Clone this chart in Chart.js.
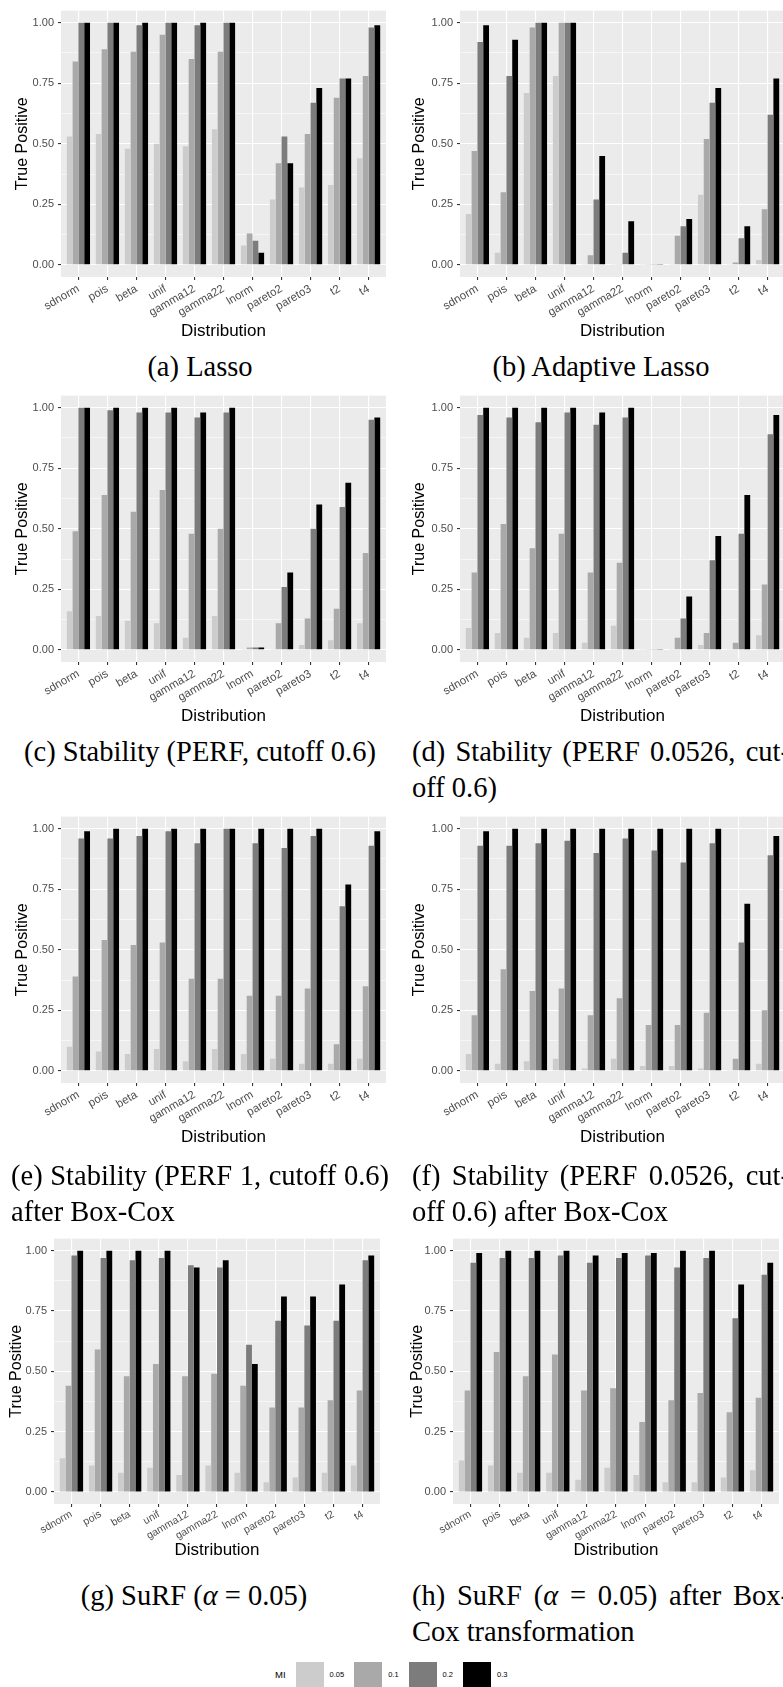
<!DOCTYPE html>
<html>
<head>
<meta charset="utf-8">
<script src="https://cdn.jsdelivr.net/npm/chart.js@4.4.1/dist/chart.umd.min.js"></script>
<style>
html, body { margin: 0; padding: 0; background: #fff; }
body { position: relative; width: 783px; height: 1687px; overflow: hidden; }
canvas { position: absolute; }
.cap { position: absolute; width: 378px; font-family: "Liberation Serif", "Times New Roman", serif; font-size: 28.5px; line-height: 36px; color: #000; white-space: nowrap; }
.cap.center { text-align: center; }
.cap .j { display: block; text-align: justify; text-align-last: justify; }
.cap .l { display: block; text-align: left; }
#legend { position: absolute; left: 275px; top: 1662px; height: 25px; display: flex; align-items: center; font-family: "Liberation Sans", Arial, sans-serif; color: #000; }
#legend .ttl { font-size: 9.5px; margin-right: 10px; }
#legend .box { width: 28px; height: 25px; }
#legend .lab { font-size: 7.5px; margin-left: 6px; margin-right: 10px; }
</style>
</head>
<body>
<script>
// categories and MI levels
const distributions = ['sdnorm', 'pois', 'beta', 'unif', 'gamma12', 'gamma22', 'lnorm', 'pareto2', 'pareto3', 't2', 't4'];
const miLevels = ['0.05', '0.1', '0.2', '0.3'];
const yTickLabels = ['0.00', '0.25', '0.50', '0.75', '1.00'];

// true positive rates, one row per MI level (0.05, 0.1, 0.2, 0.3)
const lasso = [
  [0.53, 0.54, 0.48, 0.50, 0.49, 0.56, 0.08, 0.27, 0.32, 0.33, 0.44],
  [0.84, 0.89, 0.88, 0.95, 0.85, 0.88, 0.13, 0.42, 0.54, 0.69, 0.78],
  [1.00, 1.00, 0.99, 1.00, 0.99, 1.00, 0.10, 0.53, 0.67, 0.77, 0.98],
  [1.00, 1.00, 1.00, 1.00, 1.00, 1.00, 0.05, 0.42, 0.73, 0.77, 0.99]
];
const adaLasso = [
  [0.21, 0.05, 0.71, 0.78, 0.004, 0.004, 0.004, 0.004, 0.29, 0.004, 0.02],
  [0.47, 0.30, 0.98, 1.00, 0.04, 0.004, 0.004, 0.12, 0.52, 0.01, 0.23],
  [0.92, 0.78, 1.00, 1.00, 0.27, 0.05, 0.004, 0.16, 0.67, 0.11, 0.62],
  [0.99, 0.93, 1.00, 1.00, 0.45, 0.18, 0.004, 0.19, 0.73, 0.16, 0.77]
];
const stabPerf = [
  [0.16, 0.14, 0.12, 0.11, 0.05, 0.14, 0.004, 0.004, 0.02, 0.04, 0.11],
  [0.49, 0.64, 0.57, 0.66, 0.48, 0.50, 0.01, 0.11, 0.13, 0.17, 0.40],
  [1.00, 0.99, 0.98, 0.98, 0.96, 0.98, 0.01, 0.26, 0.50, 0.59, 0.95],
  [1.00, 1.00, 1.00, 1.00, 0.98, 1.00, 0.01, 0.32, 0.60, 0.69, 0.96]
];
const stabPerf0526 = [
  [0.09, 0.07, 0.05, 0.07, 0.03, 0.10, 0.004, 0.004, 0.02, 0.004, 0.06],
  [0.32, 0.52, 0.42, 0.48, 0.32, 0.36, 0.004, 0.05, 0.07, 0.03, 0.27],
  [0.97, 0.96, 0.94, 0.98, 0.93, 0.96, 0.004, 0.13, 0.37, 0.48, 0.89],
  [1.00, 1.00, 1.00, 1.00, 0.98, 1.00, 0.004, 0.22, 0.47, 0.64, 0.97]
];
const stabPerf1BoxCox = [
  [0.10, 0.08, 0.07, 0.09, 0.04, 0.09, 0.07, 0.05, 0.03, 0.03, 0.05],
  [0.39, 0.54, 0.52, 0.53, 0.38, 0.38, 0.31, 0.31, 0.34, 0.11, 0.35],
  [0.96, 0.96, 0.97, 0.99, 0.94, 1.00, 0.94, 0.92, 0.97, 0.68, 0.93],
  [0.99, 1.00, 1.00, 1.00, 1.00, 1.00, 1.00, 1.00, 1.00, 0.77, 0.99]
];
const stabPerf0526BoxCox = [
  [0.07, 0.03, 0.04, 0.05, 0.01, 0.05, 0.02, 0.02, 0.01, 0.004, 0.03],
  [0.23, 0.42, 0.33, 0.34, 0.23, 0.30, 0.19, 0.19, 0.24, 0.05, 0.25],
  [0.93, 0.93, 0.94, 0.95, 0.90, 0.96, 0.91, 0.86, 0.94, 0.53, 0.89],
  [0.99, 1.00, 1.00, 1.00, 1.00, 1.00, 1.00, 1.00, 1.00, 0.69, 0.97]
];
const surf = [
  [0.14, 0.11, 0.08, 0.10, 0.07, 0.11, 0.08, 0.04, 0.06, 0.08, 0.11],
  [0.44, 0.59, 0.48, 0.53, 0.48, 0.49, 0.44, 0.35, 0.35, 0.38, 0.42],
  [0.98, 0.97, 0.96, 0.97, 0.94, 0.93, 0.61, 0.71, 0.69, 0.71, 0.96],
  [1.00, 1.00, 1.00, 1.00, 0.93, 0.96, 0.53, 0.81, 0.81, 0.86, 0.98]
];
const surfBoxCox = [
  [0.13, 0.11, 0.08, 0.08, 0.05, 0.10, 0.07, 0.04, 0.04, 0.06, 0.09],
  [0.42, 0.58, 0.48, 0.57, 0.42, 0.43, 0.29, 0.38, 0.41, 0.33, 0.39],
  [0.95, 0.97, 0.97, 0.98, 0.95, 0.97, 0.98, 0.93, 0.97, 0.72, 0.90],
  [0.99, 1.00, 1.00, 1.00, 0.98, 0.99, 0.99, 1.00, 1.00, 0.86, 0.95]
];

const miColors = ['#CCCCCC', '#A9A9A9', '#7C7C7C', '#000000'];
const sansFont = '"Liberation Sans", Arial, Helvetica, sans-serif';

// where each panel goes on the page (canvas left/top, plot area edges)
const panels = [
  { values: lasso,              L: 0,   T: 0,    plotL: 61,  plotR: 386, plotT: 10,   plotB: 277,  H: 342, xFont: 11.5 },
  { values: adaLasso,           L: 397, T: 0,    plotL: 460, plotR: 785, plotT: 10,   plotB: 277,  H: 342, xFont: 11.5 },
  { values: stabPerf,           L: 0,   T: 385,  plotL: 61,  plotR: 386, plotT: 395,  plotB: 662,  H: 342, xFont: 11.5 },
  { values: stabPerf0526,       L: 397, T: 385,  plotL: 460, plotR: 785, plotT: 395,  plotB: 662,  H: 342, xFont: 11.5 },
  { values: stabPerf1BoxCox,    L: 0,   T: 806,  plotL: 61,  plotR: 386, plotT: 816,  plotB: 1083, H: 342, xFont: 11.5 },
  { values: stabPerf0526BoxCox, L: 397, T: 806,  plotL: 460, plotR: 785, plotT: 816,  plotB: 1083, H: 342, xFont: 11.5 },
  { values: surf,               L: -6,  T: 1228, plotL: 54,  plotR: 380, plotT: 1238, plotB: 1504, H: 333, xFont: 10.5 },
  { values: surfBoxCox,         L: 395, T: 1228, plotL: 453, plotR: 779, plotT: 1238, plotB: 1504, H: 333, xFont: 10.5 }
];

const isMajor = v => Math.abs(v * 4 - Math.round(v * 4)) < 1e-6;

const panelBg = {
  id: 'panelBg',
  beforeDraw(chart) {
    const { ctx, chartArea: a } = chart;
    ctx.save();
    ctx.fillStyle = '#EBEBEB';
    ctx.fillRect(a.left, a.top, a.right - a.left, a.bottom - a.top);
    ctx.restore();
  }
};

function makeChart(p) {
  const W = p.plotR + 6 - p.L;
  const H = p.H;
  const canvas = document.createElement('canvas');
  canvas.width = W;
  canvas.height = H;
  canvas.style.left = p.L + 'px';
  canvas.style.top = p.T + 'px';
  canvas.style.width = W + 'px';
  canvas.style.height = H + 'px';
  document.body.appendChild(canvas);

  new Chart(canvas, {
    type: 'bar',
    data: {
      datasets: miLevels.map((m, k) => ({
        label: m,
        data: p.values[k].map((v, i) => ({ x: i, y: v })),
        backgroundColor: miColors[k],
        borderWidth: 0,
        categoryPercentage: 0.8,
        barPercentage: 1
      }))
    },
    options: {
      responsive: false,
      animation: false,
      devicePixelRatio: 1,
      layout: { padding: { left: 0, top: p.plotT - p.T, right: 6, bottom: 0 } },
      plugins: { legend: { display: false }, tooltip: { enabled: false } },
      scales: {
        x: {
          type: 'linear',
          min: -0.6,
          max: 10.6,
          offset: false,
          border: { display: false },
          grid: { offset: false, color: '#FFFFFF', lineWidth: 1.1, tickColor: '#333333', tickLength: 3 },
          ticks: {
            stepSize: 1, includeBounds: false, autoSkip: false, maxTicksLimit: 100,
            minRotation: 30, maxRotation: 30, padding: p.xFont < 11 ? 1 : 2,
            color: '#4D4D4D', font: { family: sansFont, size: p.xFont },
            callback: v => distributions[v] ?? ''
          },
          title: { display: true, text: 'Distribution', color: '#000', font: { family: sansFont, size: 17 }, padding: 0 },
          afterFit: s => { s.height = H - (p.plotB - p.T); }
        },
        y: {
          min: -0.05,
          max: 1.05,
          border: { display: false },
          grid: {
            color: '#FFFFFF',
            lineWidth: c => isMajor(c.tick.value) ? 1.1 : 0.55,
            tickColor: c => isMajor(c.tick.value) ? '#333333' : 'rgba(0,0,0,0)',
            tickLength: 3
          },
          ticks: {
            stepSize: 0.125, includeBounds: false, autoSkip: false, maxTicksLimit: 100, padding: 4,
            color: '#4D4D4D', font: { family: sansFont, size: 11 },
            callback: v => isMajor(v) ? yTickLabels[Math.round(v * 4)] : ''
          },
          title: { display: true, text: 'True Positive', color: '#000', font: { family: sansFont, size: 16 }, padding: { top: 13.4, bottom: 0 } },
          afterFit: s => { s.width = p.plotL - p.L; }
        }
      }
    },
    plugins: [panelBg]
  });
}

panels.forEach(makeChart);

// captions
const captions = [
  { left: 11,  top: 349,  html: '(a) Lasso', center: true },
  { left: 412, top: 349,  html: '(b) Adaptive Lasso', center: true },
  { left: 11,  top: 734,  html: '(c) Stability (PERF, cutoff 0.6)', center: true },
  { left: 412, top: 734,  html: '<span class="j">(d) Stability (PERF 0.0526, cut-</span><span class="l">off 0.6)</span>' },
  { left: 11,  top: 1158, html: '<span class="j">(e) Stability (PERF 1, cutoff 0.6)</span><span class="l">after Box-Cox</span>' },
  { left: 412, top: 1158, html: '<span class="j">(f) Stability (PERF 0.0526, cut-</span><span class="l">off 0.6) after Box-Cox</span>' },
  { left: 5,   top: 1578, html: '(g) SuRF (<i>α</i> = 0.05)', center: true },
  { left: 412, top: 1578, html: '<span class="j">(h) SuRF (<i>α</i> = 0.05) after Box-</span><span class="l">Cox transformation</span>' }
];
captions.forEach(c => {
  const d = document.createElement('div');
  d.className = 'cap' + (c.center ? ' center' : '');
  d.style.left = c.left + 'px';
  d.style.top = c.top + 'px';
  d.innerHTML = c.html;
  document.body.appendChild(d);
});

// shared legend
const legend = document.createElement('div');
legend.id = 'legend';
legend.innerHTML = '<span class="ttl">MI</span>' +
  miLevels.map((m, k) => `<span class="box" style="background:${miColors[k]}"></span><span class="lab">${m}</span>`).join('');
document.body.appendChild(legend);
</script>
</body>
</html>
